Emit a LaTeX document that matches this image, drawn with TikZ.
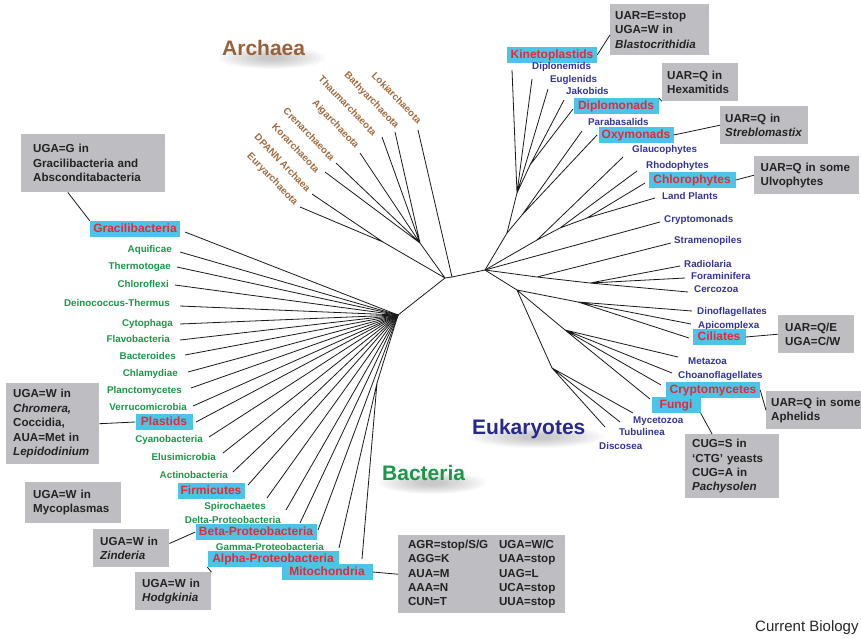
\documentclass[tikz,border=0pt]{standalone}
\usepackage{fontspec}
\setmainfont{Liberation Sans}
\definecolor{eukblue}{RGB}{52,52,150}
\definecolor{bacgreen}{RGB}{28,150,72}
\definecolor{arcbrown}{RGB}{160,106,62}
\definecolor{titlebrown}{RGB}{150,98,58}
\definecolor{titleblue}{RGB}{40,40,140}
\definecolor{hlred}{RGB}{232,40,52}
\definecolor{hlcyan}{RGB}{76,196,232}
\definecolor{notegray}{RGB}{190,190,194}
\definecolor{notetext}{RGB}{35,35,35}
\begin{document}
\begin{tikzpicture}[x=1pt,y=-1pt,
  br/.style={line width=0.8pt,black!90},
  eu/.style={font=\bfseries\fontsize{9.8}{11}\selectfont,text=eukblue,inner sep=0pt,anchor=base west},
  ba/.style={font=\bfseries\fontsize{9.8}{11}\selectfont,text=bacgreen,inner sep=0pt,anchor=base east},
  ar/.style={font=\bfseries\fontsize{9.8}{11}\selectfont,text=arcbrown,inner sep=0pt,anchor=east,rotate=-46},
  hl/.style={fill=hlcyan,text=hlred,font=\bfseries\fontsize{12}{13}\selectfont,inner xsep=1pt,inner ysep=0pt,text height=9pt,text depth=2.6pt,minimum height=16pt},
  note/.style={fill=notegray,text=notetext,font=\bfseries\fontsize{11.6}{14.4}\selectfont,align=left,anchor=north west,inner ysep=0pt},
  ttl/.style={font=\bfseries\fontsize{21}{24}\selectfont,anchor=base west,inner sep=0pt},
]
\useasboundingbox (0,0) rectangle (861,638);

% ---------- titles with soft shadow ----------
\foreach \r in {0,...,9}{
  \fill[black,opacity=0.022] (272,58) ellipse ({54-\r*4.6} and {11-\r*0.9});
  \fill[black,opacity=0.022] (432,483) ellipse ({54-\r*4.6} and {11-\r*0.9});
  \fill[black,opacity=0.022] (537,437) ellipse ({68-\r*5.8} and {11-\r*0.9});
}
\node[ttl,text=titlebrown] (tArch) at (222,55) {Archaea};
\node[ttl,text=bacgreen] (tBac) at (382,480) {Bacteria};
\node[ttl,text=titleblue] (tEuk) at (472,434) {Eukaryotes};

% ---------- backbone ----------
\coordinate (H) at (398,315);
\coordinate (R) at (445,278);
\coordinate (R2) at (452,277);
\coordinate (E0) at (485,270);
\coordinate (A1) at (383,242);
\coordinate (A2) at (420,243);
\draw[br] (H)--(R)--(R2)--(E0);
\draw[br] (A1)--(R) (A2)--(R);

% ---------- Archaea ----------
\node[ar] (lLoki) at (420,122) {Lokiarchaeota};
\node[ar] (lBathy) at (397,127) {Bathyarchaeota};
\node[ar] (lThaum) at (375,134) {Thaumarchaeota};
\node[ar] (lAig) at (357,147) {Aigarchaeota};
\node[ar] (lCren) at (333,159) {Crenarchaeota};
\node[ar] (lKor) at (318,171) {Korarchaeota};
\node[ar] (lDPANN) at (309,190) {DPANN Archaea};
\node[ar] (lEury) at (296,204) {Euryarchaeota};
\coordinate (tLoki) at (418,130);
\coordinate (tBathy) at (395,132);
\coordinate (tThaum) at (382,137);
\coordinate (tAig) at (360,153);
\coordinate (tCren) at (336,163);
\coordinate (tKor) at (325,172);
\coordinate (tDPANN) at (312,194);
\coordinate (tEury) at (300,207);
\draw[br] (tLoki)--(R2);
\draw[br] (tBathy)--(A2) (tThaum)--(A2) (tAig)--(A2) (tCren)--(A2) (tKor)--(A2);
\draw[br] (tDPANN)--(A1) (tEury)--(A1);

% ---------- Eukaryotes: labels ----------
\node[hl,minimum width=90pt] (Kineto) at (552,55) {Kinetoplastids};
\node[eu] (lDiplon) at (532,69.5) {Diplonemids};
\node[eu] (lEugl) at (550,82.5) {Euglenids};
\node[eu] (lJako) at (566,94.5) {Jakobids};
\node[hl,minimum width=85pt] (Diplom) at (616,106) {Diplomonads};
\node[eu] (lPara) at (588,125.5) {Parabasalids};
\node[hl,minimum width=75pt] (Oxy) at (636,135) {Oxymonads};
\node[eu] (lGlauc) at (632,152.5) {Glaucophytes};
\node[eu] (lRhodo) at (646,168.5) {Rhodophytes};
\node[hl,minimum width=87pt] (Chloro) at (692,180) {Chlorophytes};
\node[eu] (lLand) at (662,199.5) {Land Plants};
\node[eu] (lCrypto) at (664,222.5) {Cryptomonads};
\node[eu] (lStram) at (674,243.5) {Stramenopiles};
\node[eu] (lRadio) at (684,267.5) {Radiolaria};
\node[eu] (lForam) at (691,279.5) {Foraminifera};
\node[eu] (lCerco) at (694,292.5) {Cercozoa};
\node[eu] (lDino) at (697,314.5) {Dinoflagellates};
\node[eu] (lApico) at (698,328.5) {Apicomplexa};
\node[hl,minimum width=53pt] (Cili) at (719,337) {Ciliates};
\node[eu] (lMeta) at (688,364.5) {Metazoa};
\node[eu] (lChoano) at (678,378.5) {Choanoflagellates};
\node[hl,minimum width=94pt] (Cryptom) at (713,390) {Cryptomycetes};
\node[hl,minimum width=49pt] (Fungi) at (676,405) {Fungi};
\node[eu] (lMyce) at (633,423.5) {Mycetozoa};
\node[eu] (lTubu) at (619,435.5) {Tubulinea};
\node[eu] (lDisco) at (599,449.5) {Discosea};

% ---------- Eukaryotes: tips ----------
\coordinate (tKineto) at (512,70);
\coordinate (tDiplon) at (532,79);
\coordinate (tEugl) at (548,89);
\coordinate (tJako) at (564,100);
\coordinate (tDiplom) at (573,109);
\coordinate (tPara) at (582,131);
\coordinate (tOxy) at (597,135);
\coordinate (tGlauc) at (623,157);
\coordinate (tRhodo) at (637,171);
\coordinate (tChloro) at (645,183);
\coordinate (tLand) at (655,198);
\coordinate (tCrypto) at (660,222);
\coordinate (tStram) at (671,243);
\coordinate (tRadio) at (680,266);
\coordinate (tForam) at (685,278);
\coordinate (tCerco) at (688,292);
\coordinate (tDino) at (692,311);
\coordinate (tApico) at (691,324);
\coordinate (tCili) at (689,338);
\coordinate (tMeta) at (678,357);
\coordinate (tChoano) at (672,373);
\coordinate (tCryptom) at (661,385);
\coordinate (tFungi) at (650,399);
\coordinate (tMyce) at (633,413);
\coordinate (tTubu) at (620,422);
\coordinate (tDisco) at (605,427);

% ---------- Eukaryotes: internal ----------
\coordinate (X1) at (507,233);
\coordinate (X2) at (517,193);
\coordinate (X3) at (530,165);
\coordinate (X4) at (522,215);
\draw[br] (E0)--(X1)--(X2);
\draw[br] (X2)--(tKineto) (X2)--(tDiplon) (X2)--(tEugl) (X2)--(X3);
\draw[br] (X3)--(tJako) (X3)--(tDiplom);
\draw[br] (X1)--(X4) (X4)--(tPara) (X4)--(tOxy);
\coordinate (P0) at (537,240);
\coordinate (P1) at (560,228);
\coordinate (P2) at (587,218);
\draw[br] (E0)--(P0)--(tGlauc) (P0)--(P1)--(tRhodo) (P1)--(P2)--(tChloro) (P2)--(tLand);
\draw[br] (E0)--(tCrypto);
\coordinate (S1) at (537,277);
\coordinate (S2) at (590,283);
\draw[br] (E0)--(S1)--(tStram) (S1)--(S2) (S2)--(tRadio) (S2)--(tForam) (S2)--(tCerco);
\coordinate (L1) at (517,290);
\coordinate (AL) at (578,302);
\coordinate (OP) at (565,330);
\coordinate (AM) at (552,368);
\draw[br] (E0)--(L1) (L1)--(AL) (L1)--(OP) (L1)--(AM);
\draw[br] (AL)--(tDino) (AL)--(tApico) (AL)--(tCili);
\draw[br] (OP)--(tMeta) (OP)--(tChoano) (OP)--(tCryptom) (OP)--(tFungi);
\draw[br] (AM)--(tMyce) (AM)--(tTubu) (AM)--(tDisco);

% ---------- Bacteria: labels ----------
\node[hl,minimum width=90pt] (Graci) at (135,229) {Gracilibacteria};
\node[ba] (lAqui) at (172,252.5) {Aquificae};
\node[ba] (lTherm) at (171,269.5) {Thermotogae};
\node[ba] (lChlfx) at (169,287.5) {Chloroflexi};
\node[ba] (lDeino) at (170,306.5) {Deinococcus-Thermus};
\node[ba] (lCyto) at (173,326.5) {Cytophaga};
\node[ba] (lFlavo) at (170,342.5) {Flavobacteria};
\node[ba] (lBactd) at (176,359.5) {Bacteroides};
\node[ba] (lChlam) at (178,376.5) {Chlamydiae};
\node[ba] (lPlanc) at (182,393.5) {Planctomycetes};
\node[ba] (lVerru) at (187,410.5) {Verrucomicrobia};
\node[hl,minimum width=57pt] (Plast) at (164,422) {Plastids};
\node[ba] (lCyano) at (203,442.5) {Cyanobacteria};
\node[ba] (lElusi) at (216,460.5) {Elusimicrobia};
\node[ba] (lActino) at (228,478.5) {Actinobacteria};
\node[hl,minimum width=67pt] (Firmi) at (211,491) {Firmicutes};
\node[ba] (lSpiro) at (266,509.5) {Spirochaetes};
\node[ba] (lDelta) at (281,523.5) {Delta-Proteobacteria};
\node[hl,minimum width=121pt] (Beta) at (256,532) {Beta-Proteobacteria};
\node[ba] (lGamma) at (324,550.5) {Gamma-Proteobacteria};
\node[hl,minimum width=131pt] (Alpha) at (273,559) {Alpha-Proteobacteria};
\node[hl,minimum width=91pt] (Mito) at (327,572) {Mitochondria};

% ---------- Bacteria: tips ----------
\coordinate (tGraci) at (185,232);
\coordinate (tAqui) at (180,252);
\coordinate (tTherm) at (177,267);
\coordinate (tChlfx) at (175,285);
\coordinate (tDeino) at (180,306);
\coordinate (tCyto) at (180,324);
\coordinate (tFlavo) at (180,340);
\coordinate (tBactd) at (185,355);
\coordinate (tChlam) at (188,372);
\coordinate (tPlanc) at (191,388);
\coordinate (tVerru) at (193,406);
\coordinate (tPlast) at (196,422);
\coordinate (tCyano) at (209,437);
\coordinate (tElusi) at (223,453);
\coordinate (tActino) at (233,472);
\coordinate (tFirmi) at (248,485);
\coordinate (tSpiro) at (267,498);
\coordinate (tDelta) at (286,510);
\coordinate (tBeta) at (300,523);
\coordinate (tGamma) at (318,530);
\coordinate (tAlpha) at (339,548);
\coordinate (tMito) at (362,559);
\coordinate (BA) at (377,383);
\foreach \t in {tGraci,tAqui,tTherm,tChlfx,tDeino,tCyto,tFlavo,tBactd,tChlam,tPlanc,tVerru,tPlast,tCyano,tElusi,tActino,tFirmi,tSpiro,tDelta,tBeta,tGamma}
  \draw[br] (\t)--(H);
\draw[br] (tAlpha)--(BA) (tMito)--(BA) (BA)--(H);

% ---------- notes ----------
\node[note,text width=89pt,inner xsep=5pt,minimum height=51pt] (B1) at (610,4) {UAR=E=stop\\UGA=W in\\\textit{Blastocrithidia}};
\node[note,text width=66pt,inner xsep=5pt,minimum height=38pt] (B2) at (662,63) {UAR=Q in\\Hexamitids};
\node[note,text width=78pt,inner xsep=5pt,minimum height=38pt] (B3) at (720,106) {UAR=Q in\\\textit{Streblomastix}};
\node[note,text width=92pt,inner xsep=6.5pt,minimum height=38pt] (B4) at (754,156) {UAR=Q in some\\Ulvophytes};
\node[note,text width=62pt,inner xsep=7pt,minimum height=38pt] (B5) at (778,315) {UAR=Q/E\\UGA=C/W};
\node[note,text width=100pt,inner xsep=5pt,minimum height=38pt] (B6) at (766,391) {UAR=Q in some\\Aphelids};
\node[note,text width=80pt,inner xsep=7pt,minimum height=64pt] (B7) at (685,434) {CUG=S in\\‘CTG’ yeasts\\CUG=A in\\\textit{Pachysolen}};
\node[note,text width=120pt,inner xsep=12pt,minimum height=58pt] (B8) at (21,134) {UGA=G in\\Gracilibacteria and\\Absconditabacteria};
\node[note,text width=79pt,inner xsep=7pt,minimum height=81pt] (B9) at (6,383) {UGA=W in\\\textit{Chromera,}\\Coccidia,\\AUA=Met in\\\textit{Lepidodinium}};
\node[note,text width=80pt,inner xsep=8pt,minimum height=41pt] (B10) at (25,482) {UGA=W in\\Mycoplasmas};
\node[note,text width=62pt,inner xsep=7pt,minimum height=38pt] (B11) at (93,529) {UGA=W in\\\textit{Zinderia}};
\node[note,text width=62pt,inner xsep=7pt,minimum height=38pt] (B12) at (135,572) {UGA=W in\\\textit{Hodgkinia}};
\node[note,inner xsep=8pt,minimum width=167pt,minimum height=78pt] (B13) at (398,535)
 {\begin{tabular}{@{}p{91pt}@{}l@{}}
  AGR=stop/S/G & UGA=W/C\\
  AGG=K & UAA=stop\\
  AUA=M & UAG=L\\
  AAA=N & UCA=stop\\
  CUN=T & UUA=stop
 \end{tabular}};

% ---------- note connectors ----------
\draw[br] (Kineto.east)--(B1.186);
\draw[br] (Diplom.north east)--(B2.south west);
\draw[br] (Oxy.east)--(B3.west);
\draw[br] (Chloro.east)--(B4.west);
\draw[br] (Cili.east)--(B5.west);
\draw[br] (Cryptom.east)--(B6.west);
\draw[br] (Fungi.south east)--(B7.122);
\draw[br] (B8.229)--(Graci.north west);
\draw[br] (B9.east)--(Plast.west);
\draw[br] (B11.7)--(Beta.west);
\draw[br] (B12.north east)--(Alpha.187.7);
\draw[br] (Mito.east)--(B13.west);

\node[font=\fontsize{15}{17}\selectfont,anchor=base west,inner sep=0pt,text=black!85] (cb) at (755,631) {Current Biology};
\end{tikzpicture}
\end{document}
